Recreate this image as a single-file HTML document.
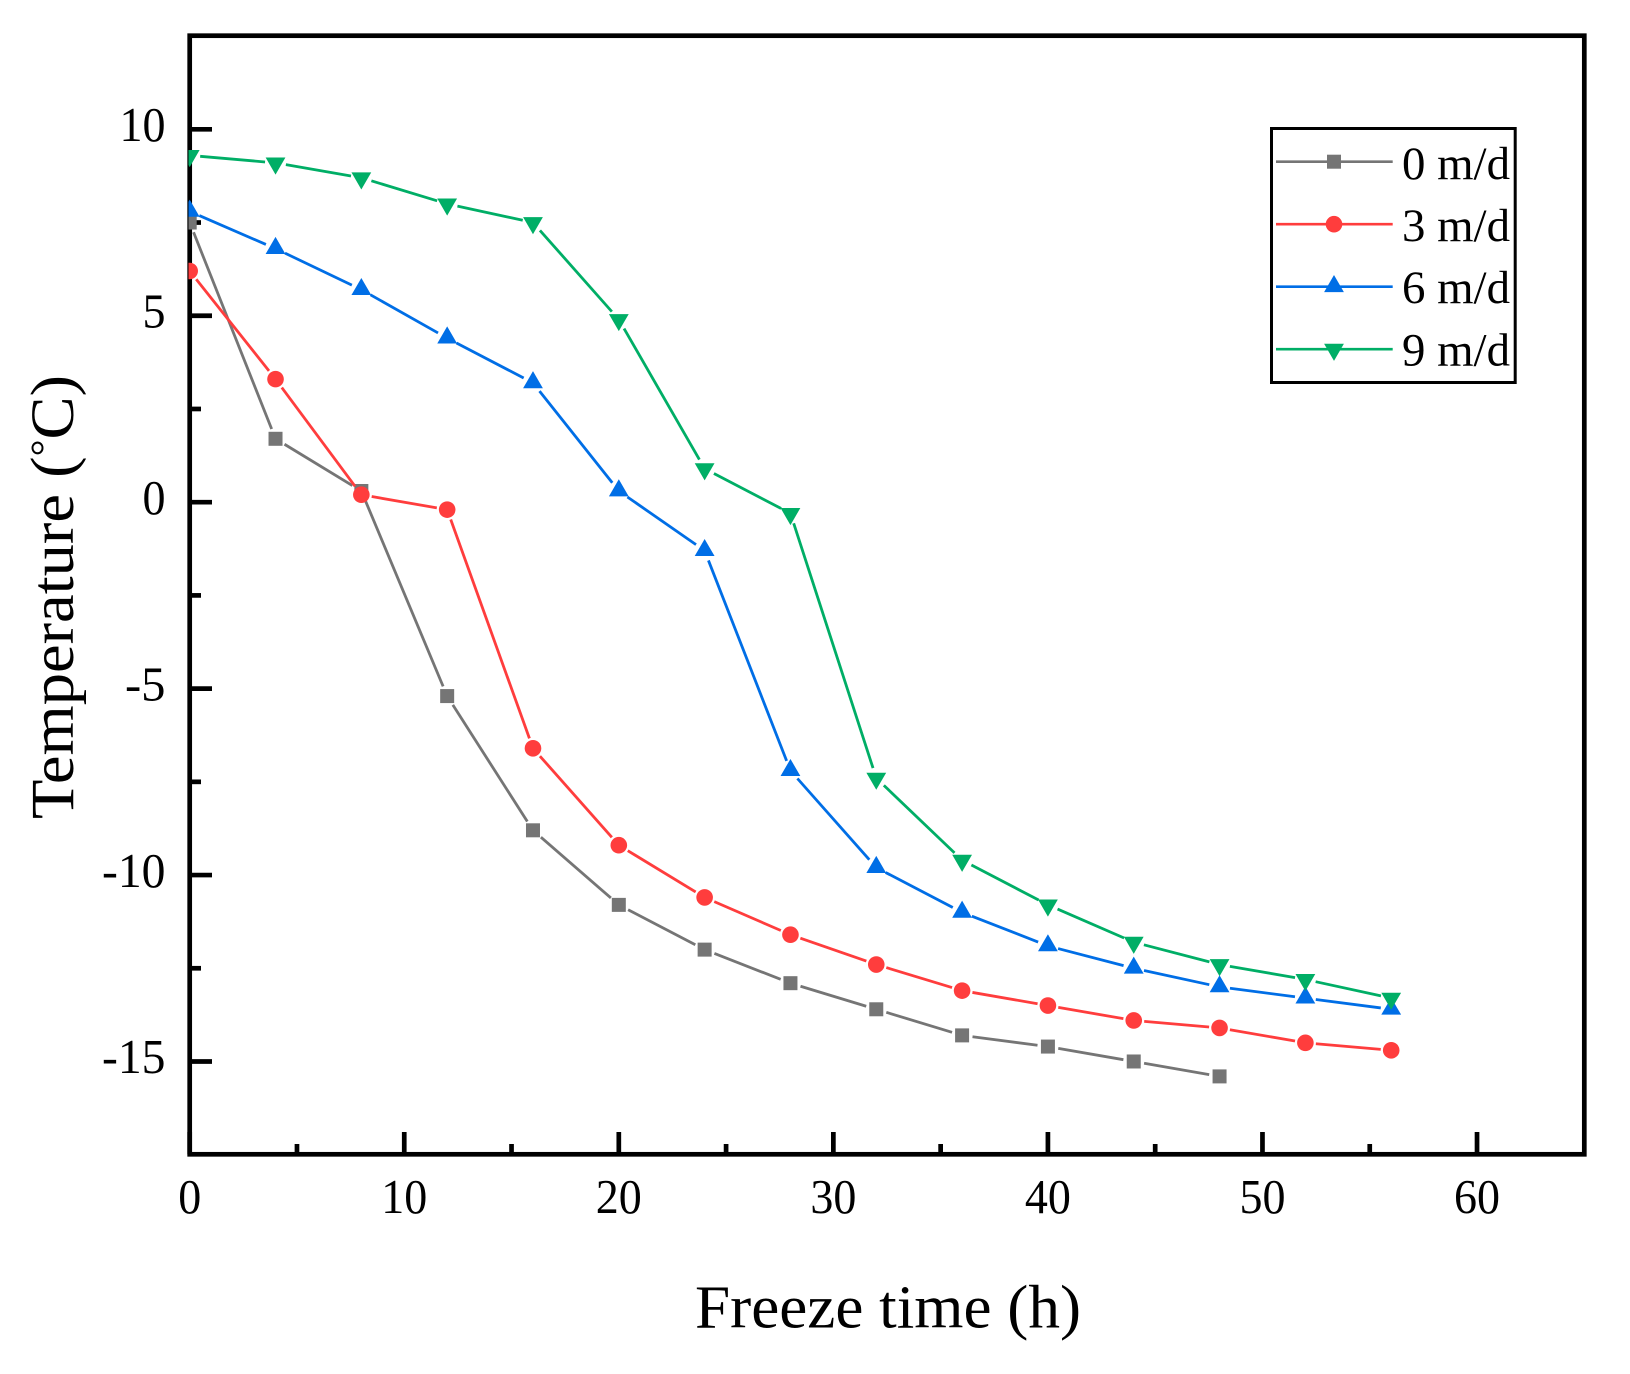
<!DOCTYPE html>
<html lang="en">
<head>
<meta charset="utf-8">
<title>Temperature vs freeze time</title>
<style>
html,body{margin:0;padding:0;background:#fff;}
body{width:1630px;height:1374px;overflow:hidden;}
svg{display:block;}
text{font-family:"Liberation Serif",serif;fill:#000;}
</style>
</head>
<body>
<svg id="chart" xmlns="http://www.w3.org/2000/svg" width="1630" height="1374" viewBox="0 0 1630 1374">
  <defs><clipPath id="plot-clip"><rect x="188.5" y="30" width="1400" height="1130"></rect></clipPath></defs>
  <rect x="0" y="0" width="1630" height="1374" fill="#fff"></rect>
  <g id="ticks"></g>
  <rect x="189.7" y="35.7" width="1394.6" height="1118.6" fill="none" stroke="#000" stroke-width="4.7"></rect>
  <g id="series" clip-path="url(#plot-clip)"></g>
  <text x="695" y="1327.5" font-size="61" textLength="386" lengthAdjust="spacingAndGlyphs">Freeze time (h)</text>
  <text transform="translate(73 819) rotate(-90)" font-size="61" textLength="444" lengthAdjust="spacingAndGlyphs">Temperature (<tspan font-size="40" dy="-15">°</tspan><tspan dy="15">C)</tspan></text>
  <g id="legend">
    <rect x="1271.5" y="128.5" width="243.7" height="254" fill="#fff" stroke="#000" stroke-width="3"></rect>
  </g>
</svg>
<script>
const times = [0,4,8,12,16,20,24,28,32,36,40,44,48,52,56];
const series0 = [7.5,1.7,0.3,-5.2,-8.8,-10.8,-12,-12.9,-13.6,-14.3,-14.6,-15,-15.4];
const series3 = [6.2,3.3,0.2,-0.2,-6.6,-9.2,-10.6,-11.6,-12.4,-13.1,-13.5,-13.9,-14.1,-14.5,-14.7];
const series6 = [7.8,6.8,5.7,4.4,3.2,0.3,-1.3,-7.2,-9.8,-11,-11.9,-12.5,-13,-13.3,-13.6];
const series9 = [9.3,9.1,8.7,8,7.5,4.9,0.9,-0.3,-7.4,-9.6,-10.8,-11.8,-12.4,-12.8,-13.3];
const seriesNames = ["0 m/d","3 m/d","6 m/d","9 m/d"];
const xMajorTicks = [0,10,20,30,40,50,60];
const xMinorTicks = [5,15,25,35,45,55];
const yMajorTicks = [-15,-10,-5,0,5,10];
const yMinorTicks = [-12.5,-7.5,-2.5,2.5,7.5];

const NS = "http://www.w3.org/2000/svg";
const sx = v => 189.7 + (v - 0) * 1394.6 / 65;
const sy = v => 1154.7 - (v + 17.5) * 1118.6 / 30;
const ticksG = document.getElementById("ticks");
const seriesG = document.getElementById("series");
const legendG = document.getElementById("legend");

function make(tag, parent, attrs){
  const el = document.createElementNS(NS, tag);
  for (const k in attrs) el.setAttribute(k, attrs[k]);
  parent.appendChild(el);
  return el;
}
function labelWidth(t){
  let w = 0;
  for (const c of t) w += c === "-" ? 17.5 : 23;
  return w;
}

xMajorTicks.forEach(v => {
  const t = make("line", ticksG, {x1:sx(v), x2:sx(v), y1:1154.3, y2:1132, stroke:"#000", "stroke-width":4.7});
  
  
  const s = String(v);
  const l = make("text", ticksG, {x:sx(v) - labelWidth(s)/2, y:1213, "font-size":49, textLength:labelWidth(s), lengthAdjust:"spacingAndGlyphs"});
  
  
  l.textContent = s;
});
xMinorTicks.forEach(v => {
  const t = make("line", ticksG, {x1:sx(v), x2:sx(v), y1:1154.3, y2:1144, stroke:"#000", "stroke-width":4.7});
  
  
});
yMajorTicks.forEach(v => {
  const t = make("line", ticksG, {x1:189.7, x2:212, y1:sy(v), y2:sy(v), stroke:"#000", "stroke-width":4.7});
  
  
  const s = String(v);
  const l = make("text", ticksG, {x:165.5 - labelWidth(s), y:sy(v) + 11.7, "font-size":49, textLength:labelWidth(s), lengthAdjust:"spacingAndGlyphs"});
  
  
  l.textContent = s;
});
yMinorTicks.forEach(v => {
  const t = make("line", ticksG, {x1:189.7, x2:201, y1:sy(v), y2:sy(v), stroke:"#000", "stroke-width":4.7});
  
  
});

function drawMarker(parent, kind, x, y, color){
  let m;
  if (kind === 0) {
    m = make("rect", parent, {x:x-7, y:y-7, width:14, height:14, fill:color});
  } else if (kind === 1) {
    m = make("circle", parent, {cx:x, cy:y, r:8.3, fill:color});
  } else if (kind === 2) {
    m = make("polygon", parent, {points:(x)+","+(y-11.7)+" "+(x+9.9)+","+(y+5.4)+" "+(x-9.9)+","+(y+5.4), fill:color});
  } else {
    m = make("polygon", parent, {points:(x)+","+(y+11.7)+" "+(x+9.9)+","+(y-5.4)+" "+(x-9.9)+","+(y-5.4), fill:color});
  }
  
  
}

const allSeries = [series0, series3, series6, series9];
const colors = ["#757575","#FF3D3D","#006EE6","#00AE66"];
const GAP = 10.5;

allSeries.forEach((vals, k) => {
  const g = make("g", seriesG, {});
  
  
  for (let i = 0; i < vals.length - 1; i++) {
    const x1 = sx(times[i]), y1 = sy(vals[i]), x2 = sx(times[i+1]), y2 = sy(vals[i+1]);
    const len = Math.hypot(x2-x1, y2-y1);
    const ux = (x2-x1)/len, uy = (y2-y1)/len;
    const seg = make("line", g, {x1:x1+ux*GAP, y1:y1+uy*GAP, x2:x2-ux*GAP, y2:y2-uy*GAP, stroke:colors[k], "stroke-width":2.8});
    
    
  }
  vals.forEach((v, i) => drawMarker(g, k, sx(times[i]), sy(v), colors[k]));
});

seriesNames.forEach((name, k) => {
  const rowY = 161.7 + k * 62.5;
  const ln = make("line", legendG, {x1:1276, x2:1392.7, y1:rowY, y2:rowY, stroke:colors[k], "stroke-width":2.6});
  
  
  drawMarker(legendG, k, 1334, rowY, colors[k]);
  const t = make("text", legendG, {x:1402, y:178.8 + k * 62.2, "font-size":47, textLength:108, lengthAdjust:"spacingAndGlyphs"});
  
  
  t.textContent = name;
});
</script>
</body>
</html>
